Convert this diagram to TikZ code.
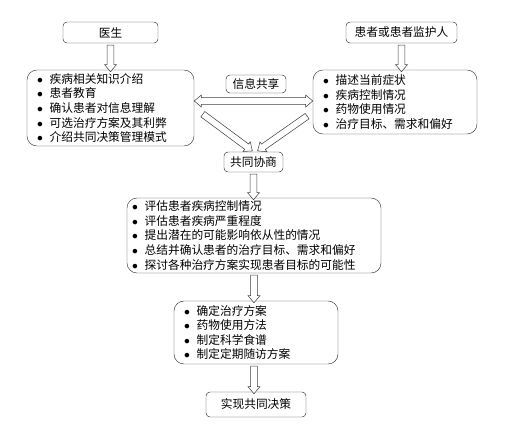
\documentclass[tikz,border=0pt]{standalone}
\usepackage{fontspec}
\setmainfont{Noto Sans CJK SC}
\usetikzlibrary{positioning, calc, shapes.arrows}

\newcommand{\itm}{\makebox[0.38cm][l]{$\bullet$}}

\tikzset{
    titlebox/.style={draw=black!80, rounded corners=0.12cm, minimum height=0.63cm, inner sep=0pt, font=\fontsize{10}{12}\selectfont},
    listbox/.style={draw=black!80, rounded corners=0.3cm, align=left, inner ysep=-3pt, font=\fontsize{10}{12.4}\selectfont},
    arrowbody/.style={draw=black!75, line width=0.45pt, fill=white, inner xsep=0pt, inner ysep=2.6pt, single arrow head extend=2.3pt, single arrow tip angle=80},
    arrowbody2/.style={draw=black!75, line width=0.45pt, fill=white, inner xsep=0pt, inner ysep=2.6pt, double arrow head extend=2.3pt, double arrow tip angle=80},
    hollow/.style={to path={let \p1=(\tikztostart), \p2=(\tikztotarget), \n1={atan2(\y2-\y1,\x2-\x1)}, \n2={veclen(\x2-\x1,\y2-\y1)} in node[arrowbody, single arrow, rotate=\n1, minimum height=\n2] at ($(\p1)!0.5!(\p2)$) {}}},
    hollowboth/.style={to path={let \p1=(\tikztostart), \p2=(\tikztotarget), \n1={atan2(\y2-\y1,\x2-\x1)}, \n2={veclen(\x2-\x1,\y2-\y1)} in node[arrowbody2, double arrow, rotate=\n1, minimum height=\n2] at ($(\p1)!0.5!(\p2)$) {}}}
}

\begin{document}
\begin{tikzpicture}
    \useasboundingbox (0,0) rectangle (15.39,-12.75);

    % Titoli
    \node[titlebox, minimum width=2.85cm] (yisheng) at (3.315,-0.975) {医生};
    \node[titlebox, minimum width=3.33cm] (huanzhe) at (12.045,-0.975) {患者或患者监护人};

    % Liste
    \node[listbox, minimum width=5.01cm, minimum height=2.28cm, inner xsep=0.3cm, text width=4.41cm] (doc) at (3.315,-3.24) {%
        \itm 疾病相关知识介绍\\
        \itm 患者教育\\
        \itm 确认患者对信息理解\\
        \itm 可选治疗方案及其利弊\\
        \itm 介绍共同决策管理模式};
    \node[listbox, minimum width=4.92cm, minimum height=1.92cm, inner xsep=0.3cm, text width=4.32cm] (pat) at (11.85,-3.06) {%
        \itm 描述当前症状\\
        \itm 疾病控制情况\\
        \itm 药物使用情况\\
        \itm 治疗目标、需求和偏好};

    \node[titlebox, minimum width=1.8cm, minimum height=0.54cm] (share) at (7.68,-2.52) {信息共享};
    \node[titlebox, minimum width=1.77cm, minimum height=0.6cm] (xie) at (7.605,-4.86) {共同协商};

    \node[listbox, minimum width=7.62cm, minimum height=2.25cm, inner xsep=0.15cm, text width=7.32cm] (big) at (7.62,-7.065) {%
        \itm 评估患者疾病控制情况\\
        \itm 评估患者疾病严重程度\\
        \itm 提出潜在的可能影响依从性的情况\\
        \itm 总结并确认患者的治疗目标、需求和偏好\\
        \itm 探讨各种治疗方案实现患者目标的可能性};
    \node[listbox, minimum width=4.92cm, minimum height=1.89cm, inner xsep=0.3cm, text width=4.32cm] (treat) at (7.68,-9.975) {%
        \itm 确定治疗方案\\
        \itm 药物使用方法\\
        \itm 制定科学食谱\\
        \itm 制定定期随访方案};

    \node[titlebox, minimum width=3.0cm, minimum height=0.75cm] (final) at (7.68,-12.135) {实现共同决策};

    % Frecce
    \path (yisheng.south) edge[hollow] (doc.north);
    \path (huanzhe.south) edge[hollow] (huanzhe.south |- pat.north);
    \path (doc.east |- 0,-3.03) edge[hollowboth] (pat.west |- 0,-3.03);
    \path ([shift={(0.21,-0.15)}]doc.east) edge[hollow] ([shift={(-0.08,0.06)}]xie.north);
    \path ([shift={(-0.12,-0.39)}]pat.west) edge[hollow] ([shift={(0.17,0.06)}]xie.north);
    \path (xie.south) edge[hollow] (xie.south |- big.north);
    \path (big.south) edge[hollow] (big.south |- treat.north);
    \path (treat.south -| big.south) edge[hollow] (big.south |- final.north);
\end{tikzpicture}
\end{document}
